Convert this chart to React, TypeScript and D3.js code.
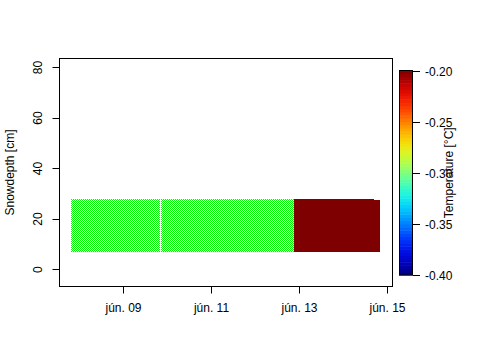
import React from "react";
import * as d3 from "d3";

// data segments (snow column cells)
const segStart = ["2015-06-07T19:30", "2015-06-09T20:30", "2015-06-12T21:00", "2015-06-14T16:30"];
const segEnd = ["2015-06-09T20:00", "2015-06-12T21:00", "2015-06-14T16:30", "2015-06-14T20:00"];
const segBottom = [7.0, 7.0, 7.0, 7.0];
const segTop = [27.8, 27.8, 27.8, 27.4];
const segTemp = [-0.3, -0.3, -0.2, -0.2];

const xDomain = ["2015-06-07T13:05", "2015-06-15T02:44"];
const yDomain = [-6.7, 83.6];
const yTicks = [0, 20, 40, 60, 80];
const xTickDates = ["2015-06-09", "2015-06-11", "2015-06-13", "2015-06-15"];
const xTickLabels = ["jún. 09", "jún. 11", "jún. 13", "jún. 15"];
const cbTicks = [-0.2, -0.25, -0.3, -0.35, -0.4];
const cbTickLabels = ["-0.20", "-0.25", "-0.30", "-0.35", "-0.40"];
const jet = ["#00007F", "#0000FF", "#007FFF", "#00FFFF", "#7FFF7F", "#FFFF00", "#FF7F00", "#FF0000", "#7F0000"];

const W = 480, H = 360;
const left = 59.5, right = 392.5, top = 58.5, bottom = 286.5;

export default function App() {
  const parse = (s: string) => new Date(s);
  const x = d3.scaleTime().domain(xDomain.map(parse)).range([left, right]);
  const y = d3.scaleLinear().domain(yDomain).range([bottom, top]);
  const cInterp = d3.interpolateRgbBasis(jet);
  const cScale = d3.scaleLinear().domain([-0.4, -0.2]).range([0, 1]);
  const color = (v: number) => d3.color(cInterp(cScale(v)))!.formatHex();
  const cbTop = 70.5, cbBottom = 275, cbLeft = 399, cbRight = 413;
  const cy = d3.scaleLinear().domain([-0.4, -0.2]).range([cbBottom, cbTop]);
  const nSteps = 64;
  const steps = d3.range(nSteps).map((i) => -0.4 + (0.2 * i) / nSteps);
  const font = "'Liberation Sans', Arial, sans-serif";

  return (
    <svg width={W} height={H} style={{ position: "absolute", left: 0, top: 0, background: "#fff" }} fontFamily={font}>
      <defs>
        <pattern id="chk" patternUnits="userSpaceOnUse" width={2} height={2}>
          <rect x={0} y={0} width={2} height={2} fill="#fff" />
          <rect x={0} y={0} width={1} height={1} fill="#00ff00" />
          <rect x={1} y={1} width={1} height={1} fill="#00ff00" />
        </pattern>
      </defs>
      {segStart.map((s, i) => {
        const x0 = Math.round(x(parse(s)));
        const x1 = Math.round(x(parse(segEnd[i])));
        const y0 = Math.round(y(segTop[i]));
        const y1 = Math.round(y(segBottom[i]));
        const c = color(segTemp[i]);
        const fill = Math.abs(segTemp[i] + 0.3) < 1e-6 ? "url(#chk)" : c;
        return <rect key={i} x={x0} y={y0} width={x1 - x0} height={y1 - y0} fill={fill} shapeRendering="crispEdges" />;
      })}
      <rect x={left} y={top} width={right - left} height={bottom - top} fill="none" stroke="#000" strokeWidth={1} />
      {yTicks.map((t) => (
        <g key={t}>
          <line x1={left - 7} x2={left} y1={Math.floor(y(t)) + 0.5} y2={Math.floor(y(t)) + 0.5} stroke="#000" />
          <text transform={`translate(${left - 17.5},${y(t)}) rotate(-90)`} textAnchor="middle" fontSize={12}>{t}</text>
        </g>
      ))}
      <text transform={`translate(14,${(top + bottom) / 2}) rotate(-90)`} textAnchor="middle" fontSize={12}>Snowdepth [cm]</text>
      {xTickDates.map((d, i) => {
        const px = Math.floor(x(parse(d + "T00:00"))) + 0.5;
        return (
          <g key={d}>
            <line x1={px} x2={px} y1={bottom} y2={bottom + 7} stroke="#000" />
            <text x={px} y={312} textAnchor="middle" fontSize={12}>{xTickLabels[i]}</text>
          </g>
        );
      })}
      {steps.map((v, i) => {
        const ya = cy(v + 0.2 / nSteps), yb = cy(v);
        return <rect key={i} x={cbLeft} y={ya} width={cbRight - cbLeft} height={yb - ya + 0.5} fill={color(v + 0.1 / nSteps)} />;
      })}
      <rect x={cbLeft + 0.5} y={cbTop} width={cbRight - cbLeft - 1} height={cbBottom - cbTop} fill="none" stroke="#000" />
      {cbTicks.map((t, i) => (
        <g key={t}>
          <line x1={cbRight} x2={cbRight + 7} y1={Math.round(cy(t)) + 0.5} y2={Math.round(cy(t)) + 0.5} stroke="#000" />
          <text x={cbRight + 12} y={cy(t) + 5} fontSize={12}>{cbTickLabels[i]}</text>
        </g>
      ))}
      <text transform={`translate(453,${(cbTop + cbBottom) / 2}) rotate(-90)`} textAnchor="middle" fontSize={12}>Temperature [°C]</text>
    </svg>
  );
}
